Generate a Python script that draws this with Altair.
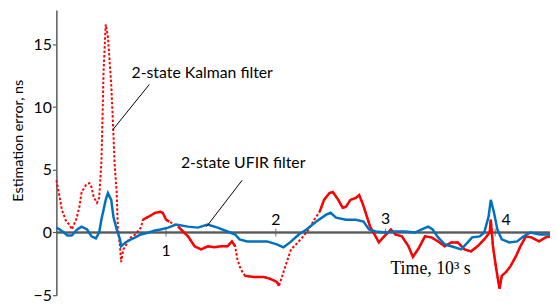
import altair as alt
import pandas as pd

# Kalman filter estimation error (ns) vs time (10^3 s)
red_t = [0.00, 0.03, 0.05, 0.09, 0.12, 0.14, 0.18, 0.21, 0.23, 0.27, 0.30, 0.32, 0.34, 0.37, 0.39,
         0.41, 0.42, 0.43, 0.45, 0.47, 0.50, 0.52, 0.53, 0.55, 0.56, 0.58, 0.59, 0.61, 0.63, 0.66,
         0.68, 0.72, 0.77, 0.79, 0.84, 0.90, 0.95, 0.97, 1.00, 1.03, 1.11, 1.20, 1.26, 1.32, 1.38,
         1.44, 1.50, 1.56, 1.60, 1.63, 1.65, 1.68, 1.72, 1.80, 1.89, 1.95, 2.01, 2.03, 2.05, 2.10,
         2.14, 2.19, 2.25, 2.30, 2.35, 2.40, 2.44, 2.49, 2.52, 2.57, 2.61, 2.64, 2.68, 2.73, 2.76,
         2.79, 2.82, 2.86, 2.91, 2.94, 2.98, 3.05, 3.09, 3.15, 3.21, 3.25, 3.30, 3.36, 3.42, 3.48,
         3.54, 3.60, 3.66, 3.72, 3.78, 3.84, 3.90, 3.95, 3.96, 3.98, 4.01, 4.04, 4.06, 4.10, 4.14,
         4.19, 4.23, 4.28, 4.33, 4.40, 4.46, 4.50]
red_e = [4.17, 2.83, 1.81, 0.87, 0.63, 0.24, 1.02, 2.05, 3.23, 3.78, 3.94, 3.62, 2.83, 2.36, 2.76,
         5.51, 8.9, 12.8, 16.6, 15.6, 11.8, 7.87, 5.59, 3.15, 0.47, -1.10, -2.36, -1.34, -1.10, -0.55,
         -0.39, -0.16, 0.39, 1.02, 1.26, 1.57, 1.65, 1.57, 1.02, 0.87, 0.47, -0.31, -1.10, -1.34, -1.10,
         -1.18, -1.10, -1.10, -0.71, -1.10, -2.13, -2.91, -3.46, -3.54, -3.54, -3.70, -3.94, -4.25, -3.70, -2.36,
         -1.34, -0.90, -0.31, 0.24, 1.02, 1.65, 2.60, 3.15, 3.23, 2.60, 1.97, 2.05, 2.60, 2.76, 2.99,
         2.36, 1.57, 0.47, -0.31, -0.79, -0.39, 0.24, -0.16, -0.31, -1.10, -1.95, -1.30, -0.31, -0.39, -0.71,
         -1.10, -0.79, -0.79, -1.34, -1.50, -1.10, -0.55, 0.00, 1.02, -1.10, -2.91, -4.49, -3.46, -3.15, -2.68,
         -1.89, -1.10, -0.31, -0.39, -0.71, -0.39, -0.31]

# UFIR filter estimation error (ns)
blue_t = [0.00, 0.03, 0.07, 0.10, 0.14, 0.19, 0.23, 0.28, 0.32, 0.36, 0.39, 0.41, 0.45, 0.47, 0.50,
          0.52, 0.55, 0.58, 0.59, 0.63, 0.68, 0.72, 0.77, 0.84, 0.90, 0.95, 1.02, 1.09, 1.20, 1.29,
          1.38, 1.47, 1.56, 1.63, 1.67, 1.74, 1.83, 1.92, 2.01, 2.07, 2.13, 2.21, 2.28, 2.37, 2.46,
          2.50, 2.55, 2.64, 2.73, 2.80, 2.85, 2.91, 3.00, 3.09, 3.18, 3.27, 3.33, 3.39, 3.43, 3.48,
          3.54, 3.63, 3.69, 3.75, 3.79, 3.86, 3.90, 3.94, 3.96, 3.99, 4.02, 4.06, 4.13, 4.20, 4.26,
          4.32, 4.41, 4.50]
blue_e = [0.39, 0.24, 0.00, -0.24, -0.24, 0.24, 0.47, 0.24, -0.31, -0.47, 0.00, 1.02, 2.60, 3.15, 2.60,
          1.26, 0.24, -0.55, -1.10, -0.79, -0.55, -0.39, -0.16, 0.00, 0.16, 0.24, 0.39, 0.63, 0.47, 0.39,
          0.63, 0.39, 0.08, -0.16, -0.55, -0.71, -0.71, -0.71, -0.94, -1.18, -0.79, -0.16, 0.24, 0.87, 1.42,
          1.57, 1.18, 1.02, 1.02, 0.87, 0.24, 0.08, 0.00, 0.08, 0.08, 0.00, 0.24, 0.47, 0.24, -0.39,
          -0.94, -1.18, -1.34, -0.79, -0.39, -0.31, 0.00, 1.26, 2.60, 1.57, 0.24, -0.55, -0.79, -0.71, -0.31,
          0.00, -0.16, -0.16]

y_ticks = [-5, 0, 5, 10, 15]
x_tick_vals = [1, 2, 3, 4]
x_tick_labels = ["1", "2", "3", "4"]
x_label_t = [1.0, 2.0, 3.0, 4.1]
x_label_e = [-1.5, 1.0, 1.1, 1.0]

ann_text = ["2-state Kalman filter", "2-state UFIR filter"]
ann_t = [0.685, 1.135]
ann_e = [12.7, 5.5]
lead_t1 = [0.847, 1.694]
lead_e1 = [11.8, 4.17]
lead_t2 = [0.514, 1.369]
lead_e2 = [8.19, 0.47]

FONT = "Lato"
GREY = "#595959"

red = pd.DataFrame({"t": red_t, "e": red_e})
blue = pd.DataFrame({"t": blue_t, "e": blue_e})
ticks = pd.DataFrame({"t": x_tick_vals})
tlabels = pd.DataFrame({"t": x_label_t, "e": x_label_e, "lab": x_tick_labels})
ann = pd.DataFrame({"t": ann_t, "e": ann_e, "txt": ann_text})
leads = pd.DataFrame({"t": lead_t1, "e": lead_e1, "t2": lead_t2, "e2": lead_e2})

xs = alt.Scale(domain=[0, 4.5], nice=False, zero=False)
ys = alt.Scale(domain=[-5, 17.75], nice=False, zero=False)

X = alt.X("t:Q", scale=xs, axis=None)
Y = alt.Y("e:Q", scale=ys, axis=alt.Axis(
    values=y_ticks, title="Estimation error, ns", grid=False,
    domainColor=GREY, domainWidth=1.5, tickColor=GREY, tickWidth=1.2, tickSize=4,
    labelFont=FONT, labelFontSize=16, labelColor="black", labelPadding=1,
    titleFont=FONT, titleFontSize=14.5, titleFontWeight="normal", titleColor="black",
    titleAngle=270, titleX=-38, titleY=132, titleBaseline="middle", titleAlign="center"))

base_red = alt.Chart(red)
red_dotted = base_red.mark_line(color="#FF0000", strokeWidth=2, strokeDash=[2.5, 2]).encode(x=X, y=Y, order="t:Q")
red_solid = base_red.transform_calculate(
    seg="datum.t < 0.78 ? 0 : datum.t < 1.07 ? 1 : datum.t < 1.1 ? 2 : datum.t < 1.64 ? 3 : datum.t < 1.71 ? 4 : datum.t < 2.04 ? 5 : datum.t < 2.39 ? 6 : 7"
).transform_filter("datum.seg % 2 == 1").mark_line(color="#FF0000", strokeWidth=2.5).encode(
    x=X, y=Y, detail="seg:N", order="t:Q")

blue_line = alt.Chart(blue).mark_line(color="#0070C0", strokeWidth=2.5).encode(x=X, y=Y, order="t:Q")

zero_rule = alt.Chart(ticks).mark_rule(color=GREY, strokeWidth=1.5).encode(
    x=alt.value(0), x2=alt.value(500), y=alt.datum(0, scale=ys))
tick_marks = alt.Chart(ticks).mark_tick(color=GREY, thickness=1.2, size=8, orient="vertical").encode(
    x=X, y=alt.datum(0, scale=ys))
tick_text = alt.Chart(tlabels).mark_text(font=FONT, fontSize=16, color="black").encode(
    x=X, y=alt.Y("e:Q", scale=ys), text="lab:N")

ann_text_m = alt.Chart(ann).mark_text(font=FONT, fontSize=16, color="black", align="left", baseline="middle").encode(
    x=X, y=alt.Y("e:Q", scale=ys), text="txt:N")
ann_lines = alt.Chart(leads).mark_rule(color="black", strokeWidth=1).encode(
    x=X, y=alt.Y("e:Q", scale=ys), x2="t2:Q", y2="e2:Q")

time_lab = alt.Chart(pd.DataFrame({"t": [3.045], "e": [-2.9], "txt": ["Time, 10³ s"]})).mark_text(
    font="Liberation Serif", fontSize=18, color="black", align="left", baseline="middle").encode(
    x=X, y=alt.Y("e:Q", scale=ys), text="txt:N")

chart = alt.layer(
    zero_rule, tick_marks, red_dotted, red_solid, blue_line, tick_text, ann_lines, ann_text_m, time_lab
).properties(
    width=500, height=289,
    autosize=alt.AutoSizeParams(type="none"),
    padding={"left": 49, "top": 0, "right": 0, "bottom": 8},
).configure_view(stroke=None)

chart.save("out.html", embed_options={"renderer": "svg", "actions": False})
